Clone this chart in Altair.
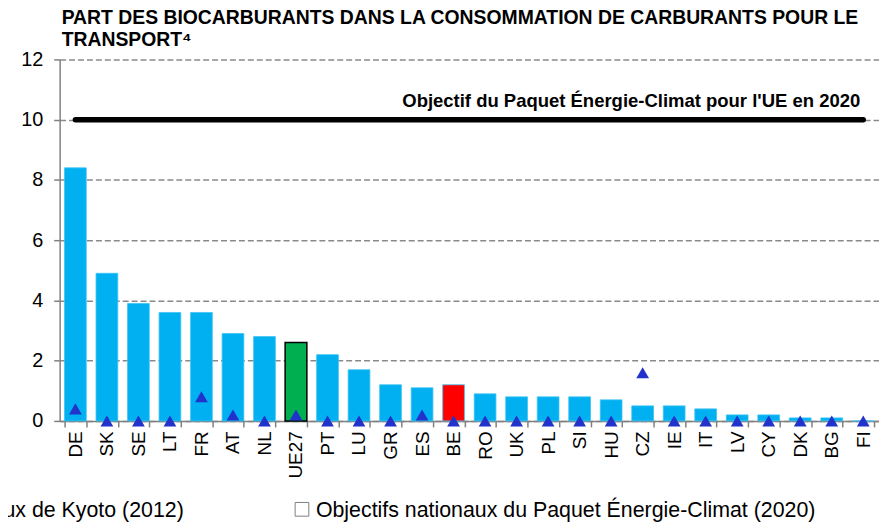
import altair as alt
import pandas as pd

# ---- data ----
countries = ["DE", "SK", "SE", "LT", "FR", "AT", "NL", "UE27", "PT", "LU", "GR", "ES", "BE",
             "RO", "UK", "PL", "SI", "HU", "CZ", "IE", "IT", "LV", "CY", "DK", "BG", "FI"]
biofuel_share = [8.4, 4.9, 3.9, 3.6, 3.6, 2.9, 2.8, 2.6, 2.2, 1.7, 1.2, 1.1, 1.2,
                 0.9, 0.8, 0.8, 0.8, 0.7, 0.5, 0.5, 0.4, 0.2, 0.2, 0.1, 0.1, 0.0]
kyoto_targets = [0.4, 0.0, 0.0, 0.0, 0.8, 0.2, 0.0, 0.2, 0.0, 0.0, 0.0, 0.2, 0.0,
                 0.0, 0.0, 0.0, 0.0, 0.0, 1.6, 0.0, 0.0, 0.0, 0.0, 0.0, 0.0, 0.0]
groups = ["EU" if c == "UE27" else ("BE" if c == "BE" else "other") for c in countries]
eu_target = 10
y_ticks = [0, 2, 4, 6, 8, 10, 12]

title_lines = ["PART DES BIOCARBURANTS DANS LA CONSOMMATION DE CARBURANTS POUR LE",
               "TRANSPORT\u2074"]
target_label = "Objectif du Paquet Énergie-Climat pour l'UE en 2020"
legend_kyoto = "Objectifs nationaux de Kyoto (2012)"
legend_paquet = "Objectifs nationaux du Paquet Énergie-Climat (2020)"

FONT = "Liberation Sans"

df = pd.DataFrame({"pays": countries, "part": biofuel_share,
                   "kyoto": kyoto_targets, "groupe": groups})

x_enc = alt.X("pays:N", sort=countries,
              scale=alt.Scale(paddingInner=0.31, paddingOuter=0.155),
              axis=alt.Axis(title=None, labelAngle=-90, labelAlign="right",
                            labelBaseline="middle", labelFontSize=19, labelFont=FONT,
                            labelColor="black", labelPadding=4,
                            domainColor="#808080", domainWidth=1.5,
                            tickColor="#808080", tickWidth=1.5, tickSize=6,
                            tickBand="extent", grid=False))
y_scale = alt.Scale(domain=[0, 12], nice=False)

bars = alt.Chart(df).mark_bar().encode(
    x=x_enc,
    y=alt.Y("part:Q", scale=y_scale,
            axis=alt.Axis(title=None, values=y_ticks, labelFontSize=20, labelFont=FONT,
                          labelColor="black", labelPadding=11,
                          domainColor="#808080", domainWidth=1.5,
                          tickColor="#808080", tickWidth=1.5, tickSize=6,
                          grid=True, gridColor="#8a8a8a", gridWidth=1.5,
                          gridDash=[6, 3])),
    color=alt.Color("groupe:N", legend=None,
                    scale=alt.Scale(domain=["other", "EU", "BE"],
                                    range=["#00B0F0", "#00B050", "#FF0000"])),
    stroke=alt.condition(alt.datum.groupe == "EU", alt.value("black"), alt.value("#3cc4f4")),
    strokeWidth=alt.condition(alt.datum.groupe == "EU", alt.value(1.5), alt.value(0.8)),
)

tri = alt.Chart(df).mark_point(shape="triangle-up", filled=True, size=165,
                               color="#2233CC", opacity=1).encode(
    x=alt.X("pays:N", sort=countries),
    y=alt.Y("kyoto:Q", scale=y_scale),
)

line_df = pd.DataFrame({"pays": [countries[0], countries[-1]], "v": [eu_target, eu_target]})
target_line = alt.Chart(line_df).mark_line(color="black", strokeWidth=5.5,
                                           strokeCap="round").encode(
    x=alt.X("pays:N", sort=countries),
    y=alt.Y("v:Q", scale=y_scale),
)

lab_df = pd.DataFrame({"pays": [countries[-1]], "v": [eu_target], "t": [target_label]})
target_text = alt.Chart(lab_df).mark_text(align="right", baseline="alphabetic", dx=-3, dy=-13,
                                          fontSize=18.6, fontWeight="bold", font=FONT,
                                          color="black").encode(
    x=alt.X("pays:N", sort=countries),
    y=alt.Y("v:Q", scale=y_scale),
    text="t:N",
)

leg1 = alt.Chart(pd.DataFrame({"t": [legend_kyoto]})).mark_text(
    align="right", baseline="alphabetic", fontSize=21.5, font=FONT, color="black").encode(
    x=alt.value(125), y=alt.value(461), text="t:N")
leg2 = alt.Chart(pd.DataFrame({"t": [legend_paquet]})).mark_text(
    align="left", baseline="alphabetic", fontSize=21.5, font=FONT, color="black").encode(
    x=alt.value(258), y=alt.value(461), text="t:N")
leg_sq = alt.Chart(pd.DataFrame({"t": [legend_paquet]})).mark_point(
    shape="square", filled=True, fill="white", stroke="#808080", strokeWidth=1,
    size=190, opacity=1).encode(x=alt.value(244), y=alt.value(453))

chart = alt.layer(bars, tri, target_line, target_text, leg1, leg2, leg_sq).properties(
    width=825, height=364,
    autosize=alt.AutoSizeParams(type="none"),
    padding={"left": 52, "top": 50, "right": 0, "bottom": 100},
    title=alt.TitleParams(text=title_lines, anchor="start", frame="group",
                          fontSize=19.5, fontWeight="bold", font=FONT, color="black",
                          baseline="bottom", offset=9, lineHeight=22, dx=2, dy=29),
).configure_view(stroke=None)

chart.save("out.html", embed_options={"renderer": "svg", "actions": False})
